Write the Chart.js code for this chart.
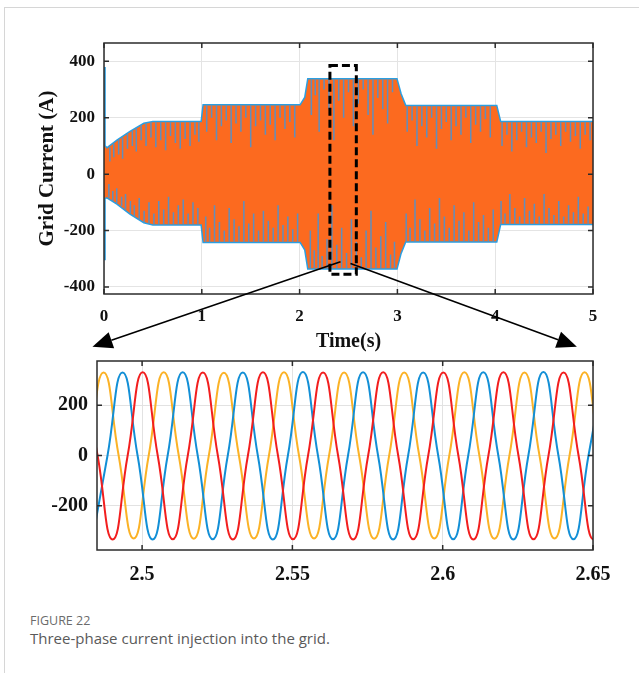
<!DOCTYPE html>
<html>
<head>
<meta charset="utf-8">
<script src="https://cdn.jsdelivr.net/npm/chart.js@4.4.1/dist/chart.umd.min.js"></script>
<style>
    body { margin: 0; background: #fff; }
    #page { position: relative; width: 639px; height: 673px; overflow: hidden; background: #fff; }
    #frame { position: absolute; left: 4px; top: 7px; width: 700px; height: 700px; border-top: 1px solid #d6d6d6; border-left: 1px solid #d6d6d6; }
    #topChart { position: absolute; left: 0; top: 0; }
    #zoomChart { position: absolute; left: 0; top: 340px; }
    .figNo { position: absolute; left: 30px; top: 612px; font: 12.5px 'Open Sans', sans-serif; color: #6b6b6b; }
    .figText { position: absolute; left: 30px; top: 628px; font: 15px 'Open Sans', sans-serif; color: #5a5a5a; }
</style>
</head>
<body>
<div id="page">
    <div id="frame"></div>
    <canvas id="topChart" width="639" height="360"></canvas>
    <canvas id="zoomChart" width="639" height="270"></canvas>
    <div class="figNo">FIGURE 22</div>
    <div class="figText">Three-phase current injection into the grid.</div>
</div>
<script>
// ---- full run (0 - 5 s): envelope of the three phase currents ----
const envTime  = [0, 0.003, 0.03, 0.14, 0.27, 0.41, 0.5, 1.0, 1.02, 2.01, 2.06, 2.09, 2.99, 3.03, 3.08, 4.01, 4.05, 5.0];
const envUpper = [380, 100, 90, 119, 149, 178, 184, 184, 243, 243, 272, 336, 336, 285, 241, 241, 184, 184];
const envLower = [-300, -85, -81, -105, -140, -170, -178, -178, -240, -240, -268, -334, -334, -281, -238, -238, -176, -176];

// dark streaks seen inside the band (time, edge level, tip level)
const upSpikeT    = [0.06, 0.10, 0.15, 0.19, 0.24, 0.29, 0.33, 0.38, 0.43, 0.48, 0.53, 0.58, 0.63, 0.68, 0.73, 0.78, 0.83, 0.88, 0.93, 0.97,
                     1.05, 1.10, 1.15, 1.20, 1.25, 1.30, 1.35, 1.40, 1.45, 1.50, 1.55, 1.60, 1.65, 1.70, 1.75, 1.80, 1.85, 1.90, 1.95,
                     2.12, 2.16, 2.20, 2.25, 2.30, 2.35, 2.40, 2.45, 2.50, 2.55, 2.60, 2.65, 2.70, 2.75, 2.80, 2.85, 2.90, 2.95,
                     3.10, 3.15, 3.20, 3.25, 3.30, 3.35, 3.40, 3.45, 3.50, 3.55, 3.60, 3.65, 3.70, 3.75, 3.80, 3.85, 3.90, 3.95,
                     4.07, 4.12, 4.17, 4.22, 4.27, 4.32, 4.37, 4.42, 4.47, 4.52, 4.57, 4.62, 4.67, 4.72, 4.77, 4.82, 4.87, 4.92, 4.97];
const upSpikeBase = [95, 108, 121, 130, 142, 153, 163, 173, 180, 183, 184, 184, 184, 184, 184, 184, 184, 184, 184, 184,
                     243, 243, 243, 243, 243, 243, 243, 243, 243, 243, 243, 243, 243, 243, 243, 243, 243, 243, 243,
                     336, 336, 336, 336, 336, 336, 336, 336, 336, 336, 336, 336, 336, 336, 336, 336, 336, 336,
                     241, 241, 241, 241, 241, 241, 241, 241, 241, 241, 241, 241, 241, 241, 241, 241, 241, 241,
                     184, 184, 184, 184, 184, 184, 184, 184, 184, 184, 184, 184, 184, 184, 184, 184, 184, 184, 184];
const upSpikeTip  = [45, 60, 70, 55, 90, 100, 80, 120, 100, 130, 95, 120, 85, 135, 110, 90, 125, 100, 140, 115,
                     150, 200, 120, 170, 190, 110, 180, 150, 200, 95, 170, 190, 140, 175, 120, 200, 160, 185, 130,
                     210, 280, 150, 300, 230, 120, 260, 200, 290, 170, 250, 300, 210, 140, 270, 230, 180, 290,
                     150, 190, 100, 170, 130, 200, 90, 160, 185, 120, 170, 140, 200, 110, 175, 150, 195, 130,
                     100, 140, 80, 120, 150, 95, 130, 110, 150, 75, 125, 140, 100, 150, 115, 135, 90, 140, 120];
const lowSpikeT    = [0.05, 0.09, 0.13, 0.18, 0.22, 0.27, 0.31, 0.36, 0.41, 0.46, 0.51, 0.56, 0.61, 0.66, 0.71, 0.76, 0.81, 0.86, 0.91, 0.96,
                      1.04, 1.08, 1.13, 1.18, 1.23, 1.28, 1.33, 1.38, 1.43, 1.48, 1.53, 1.58, 1.63, 1.68, 1.73, 1.78, 1.83, 1.88, 1.93, 1.98,
                      2.11, 2.15, 2.19, 2.23, 2.28, 2.33, 2.38, 2.43, 2.48, 2.53, 2.58, 2.63, 2.68, 2.73, 2.78, 2.83, 2.88, 2.93, 2.97,
                      3.09, 3.13, 3.18, 3.23, 3.28, 3.33, 3.38, 3.43, 3.48, 3.53, 3.58, 3.63, 3.68, 3.73, 3.78, 3.83, 3.88, 3.93, 3.98,
                      4.06, 4.10, 4.15, 4.20, 4.25, 4.30, 4.35, 4.40, 4.45, 4.50, 4.55, 4.60, 4.65, 4.70, 4.75, 4.80, 4.85, 4.90, 4.95];
const lowSpikeBase = [-83, -95, -102, -113, -125, -140, -150, -162, -170, -175, -178, -178, -178, -178, -178, -178, -178, -178, -178, -178,
                      -240, -240, -240, -240, -240, -240, -240, -240, -240, -240, -240, -240, -240, -240, -240, -240, -240, -240, -240, -240,
                      -334, -334, -334, -334, -334, -334, -334, -334, -334, -334, -334, -334, -334, -334, -334, -334, -334, -334, -334,
                      -238, -238, -238, -238, -238, -238, -238, -238, -238, -238, -238, -238, -238, -238, -238, -238, -238, -238, -238,
                      -176, -176, -176, -176, -176, -176, -176, -176, -176, -176, -176, -176, -176, -176, -176, -176, -176, -176, -176];
const lowSpikeTip  = [-35, -60, -50, -80, -70, -95, -110, -85, -130, -100, -140, -95, -125, -80, -135, -110, -90, -140, -100, -120,
                      -150, -190, -110, -170, -200, -120, -160, -185, -95, -175, -140, -200, -130, -165, -190, -110, -180, -150, -195, -140,
                      -200, -270, -140, -290, -230, -110, -250, -190, -280, -160, -240, -295, -200, -130, -260, -220, -170, -285, -240,
                      -140, -190, -90, -160, -200, -120, -175, -85, -150, -190, -110, -165, -135, -200, -100, -170, -145, -190, -125,
                      -95, -140, -70, -120, -150, -85, -130, -105, -150, -70, -120, -145, -95, -150, -110, -135, -80, -140, -115];
const topXTicks = [0, 1, 2, 3, 4, 5];
const topYTicks = [-400, -200, 0, 200, 400];

// ---- zoomed window (2.485 - 2.65 s): peaks, zero crossings, troughs ----
const phaseATime = [2.4772, 2.4822, 2.4872, 2.4922, 2.4972, 2.5022, 2.5072, 2.5122, 2.5172, 2.5222, 2.5272, 2.5322, 2.5372, 2.5422, 2.5472, 2.5522, 2.5572, 2.5622, 2.5672, 2.5722, 2.5772, 2.5822, 2.5872, 2.5922, 2.5972, 2.6022, 2.6072, 2.6122, 2.6172, 2.6222, 2.6272, 2.6322, 2.6372, 2.6422, 2.6472, 2.6522, 2.6572];
const phaseAVal  = [-330, 0, 330, 0, -330, 0, 331, 0, -331, 0, 329, 0, -330, 0, 331, 0, -330, 0, 330, 0, -331, 0, 330, 0, -330, 0, 331, 0, -331, 0, 330, 0, -330, 0, 331, 0, -330];
const phaseBTime = [2.4835, 2.4885, 2.4935, 2.4985, 2.5035, 2.5085, 2.5135, 2.5185, 2.5235, 2.5285, 2.5335, 2.5385, 2.5435, 2.5485, 2.5535, 2.5585, 2.5635, 2.5685, 2.5735, 2.5785, 2.5835, 2.5885, 2.5935, 2.5985, 2.6035, 2.6085, 2.6135, 2.6185, 2.6235, 2.6285, 2.6335, 2.6385, 2.6435, 2.6485, 2.6535];
const phaseBVal  = [-333, 0, 330, 0, -334, 0, 331, 0, -333, 0, 330, 0, -334, 0, 332, 0, -333, 0, 331, 0, -334, 0, 330, 0, -333, 0, 331, 0, -334, 0, 332, 0, -333, 0, 330];
const phaseCTime = [2.4802, 2.4852, 2.4902, 2.4952, 2.5002, 2.5052, 2.5102, 2.5152, 2.5202, 2.5252, 2.5302, 2.5352, 2.5402, 2.5452, 2.5502, 2.5552, 2.5602, 2.5652, 2.5702, 2.5752, 2.5802, 2.5852, 2.5902, 2.5952, 2.6002, 2.6052, 2.6102, 2.6152, 2.6202, 2.6252, 2.6302, 2.6352, 2.6402, 2.6452, 2.6502, 2.6552];
const phaseCVal  = [330, 0, -334, 0, 331, 0, -333, 0, 330, 0, -334, 0, 331, 0, -333, 0, 330, 0, -334, 0, 331, 0, -333, 0, 330, 0, -334, 0, 331, 0, -333, 0, 330, 0, -334, 0];
const zoomXTicks = [2.5, 2.55, 2.6, 2.65];
const zoomYTicks = [-200, 0, 200];

const serifBold = (size) => ({ family: "'Liberation Serif', 'Times New Roman', serif", weight: 'bold', size: size });
const toPoints = (xs, ys) => xs.map((x, i) => ({ x: x, y: ys[i] }));

// each streak is its own little segment, broken by a null point
function toStreaks(ts, bases, tips) {
    const pts = [];
    ts.forEach((t, i) => {
        pts.push({ x: t, y: bases[i] }, { x: t, y: tips[i] }, { x: t, y: null });
    });
    return pts;
}

// matlab style box with the little inward ticks
const boxPlugin = {
    id: 'matlabBox',
    afterDraw(chart) {
        const ctx = chart.ctx;
        const a = chart.chartArea;
        const xs = chart.scales.x, ys = chart.scales.y;
        ctx.save();
        ctx.strokeStyle = '#2b2b2b';
        ctx.lineWidth = 1.5;
        ctx.beginPath();
        xs.ticks.forEach(t => {
            const px = xs.getPixelForValue(t.value);
            ctx.moveTo(px, a.bottom); ctx.lineTo(px, a.bottom - 5);
            ctx.moveTo(px, a.top); ctx.lineTo(px, a.top + 5);
        });
        ys.ticks.forEach(t => {
            const py = ys.getPixelForValue(t.value);
            ctx.moveTo(a.left, py); ctx.lineTo(a.left + 5, py);
            ctx.moveTo(a.right, py); ctx.lineTo(a.right - 5, py);
        });
        ctx.stroke();
        ctx.strokeRect(a.left, a.top, a.right - a.left, a.bottom - a.top);
        ctx.restore();
    }
};

// dashed zoom box + the two arrows pointing to the zoomed plot
const zoomMarkPlugin = {
    id: 'zoomMark',
    afterDraw(chart) {
        const ctx = chart.ctx;
        const xs = chart.scales.x, ys = chart.scales.y;
        const px = v => xs.getPixelForValue(v);
        const py = v => ys.getPixelForValue(v);

        ctx.save();
        ctx.strokeStyle = '#000';
        ctx.lineWidth = 3;
        ctx.setLineDash([8, 4]);
        ctx.strokeRect(px(2.31), py(385), px(2.58) - px(2.31), py(-355) - py(385));
        ctx.setLineDash([]);

        function arrow(x0, y0, x1, y1) {
            const ang = Math.atan2(y1 - y0, x1 - x0);
            const len = 20, half = 8.5;
            const bx = x1 - len * Math.cos(ang), by = y1 - len * Math.sin(ang);
            ctx.lineWidth = 1.6;
            ctx.beginPath();
            ctx.moveTo(x0, y0);
            ctx.lineTo(bx, by);
            ctx.stroke();
            ctx.beginPath();
            ctx.moveTo(x1, y1);
            ctx.lineTo(bx + half * Math.sin(ang), by - half * Math.cos(ang));
            ctx.lineTo(bx - half * Math.sin(ang), by + half * Math.cos(ang));
            ctx.closePath();
            ctx.fill();
        }
        ctx.fillStyle = '#000';
        arrow(px(2.418), py(-311), px(-0.118), py(-612));
        arrow(px(2.52), py(-317), px(4.835), py(-612));
        ctx.restore();
    }
};

new Chart(document.getElementById('topChart'), {
    type: 'line',
    data: {
        datasets: [
            { data: toPoints(envTime, envUpper), borderColor: '#2a9fe2', borderWidth: 3, pointRadius: 0, fill: false, order: 4 },
            { data: toPoints(envTime, envLower), borderColor: '#2a9fe2', borderWidth: 3, pointRadius: 0, fill: false, order: 4 },
            { data: toPoints(envTime, envLower), borderColor: '#fc6a1f', borderWidth: 0, pointRadius: 0, fill: false, order: 2 },
            { data: toPoints(envTime, envUpper), borderColor: '#fc6a1f', backgroundColor: '#fc6a1f', borderWidth: 0, pointRadius: 0, fill: '-1', order: 2 },
            { data: toStreaks(upSpikeT, upSpikeBase, upSpikeTip), borderColor: '#5f8fbe', borderWidth: 1.5, pointRadius: 0, spanGaps: false, fill: false, order: 1 },
            { data: toStreaks(lowSpikeT, lowSpikeBase, lowSpikeTip), borderColor: '#5f8fbe', borderWidth: 1.5, pointRadius: 0, spanGaps: false, fill: false, order: 1 }
        ]
    },
    options: {
        responsive: false,
        animation: false,
        layout: { padding: { top: 43, right: 46, left: 30, bottom: 0 } },
        plugins: { legend: { display: false }, tooltip: { enabled: false } },
        scales: {
            x: {
                type: 'linear', min: 0, max: 5,
                afterBuildTicks: s => { s.ticks = topXTicks.map(v => ({ value: v })); },
                afterFit: s => { s.height = 66; },
                ticks: { padding: 12, font: serifBold(17), color: '#111', maxRotation: 0, callback: v => String(v) },
                grid: { color: '#e4e4e4', drawTicks: false },
                border: { display: false },
                title: { display: true, text: 'Time(s)', font: serifBold(20), color: '#111', padding: { top: 0, bottom: 6 } }
            },
            y: {
                type: 'linear', min: -425, max: 465,
                afterBuildTicks: s => { s.ticks = topYTicks.map(v => ({ value: v })); },
                afterFit: s => { s.width = 74; },
                ticks: { padding: 9, font: serifBold(17), color: '#111', callback: v => String(v) },
                grid: { color: '#e4e4e4', drawTicks: false },
                border: { display: false },
                title: { display: true, text: 'Grid Current (A)', font: serifBold(21), color: '#111', padding: { top: 5, bottom: 0 } }
            }
        }
    },
    plugins: [boxPlugin, zoomMarkPlugin]
});

new Chart(document.getElementById('zoomChart'), {
    type: 'line',
    data: {
        datasets: [
            { label: 'ic', data: toPoints(phaseCTime, phaseCVal), borderColor: '#f21e1e', borderWidth: 2, pointRadius: 0, tension: 0.5, order: 1 },
            { label: 'ib', data: toPoints(phaseBTime, phaseBVal), borderColor: '#128fd6', borderWidth: 2, pointRadius: 0, tension: 0.5, order: 2 },
            { label: 'ia', data: toPoints(phaseATime, phaseAVal), borderColor: '#fbb226', borderWidth: 2, pointRadius: 0, tension: 0.5, order: 3 }
        ]
    },
    options: {
        responsive: false,
        animation: false,
        layout: { padding: { top: 21, right: 46, left: 30, bottom: 0 } },
        plugins: { legend: { display: false }, tooltip: { enabled: false } },
        scales: {
            x: {
                type: 'linear', min: 2.485, max: 2.65,
                afterBuildTicks: s => { s.ticks = zoomXTicks.map(v => ({ value: v })); },
                afterFit: s => { s.height = 60; },
                ticks: { padding: 13, font: serifBold(20), color: '#111', maxRotation: 0, callback: v => String(v) },
                grid: { color: '#e2e2e2', drawTicks: false },
                border: { display: false }
            },
            y: {
                type: 'linear', min: -376, max: 376,
                afterBuildTicks: s => { s.ticks = zoomYTicks.map(v => ({ value: v })); },
                afterFit: s => { s.width = 67; },
                ticks: { padding: 9, font: serifBold(20), color: '#111', callback: v => String(v) },
                grid: { color: '#e2e2e2', drawTicks: false },
                border: { display: false }
            }
        }
    },
    plugins: [boxPlugin]
});
</script>
</body>
</html>
